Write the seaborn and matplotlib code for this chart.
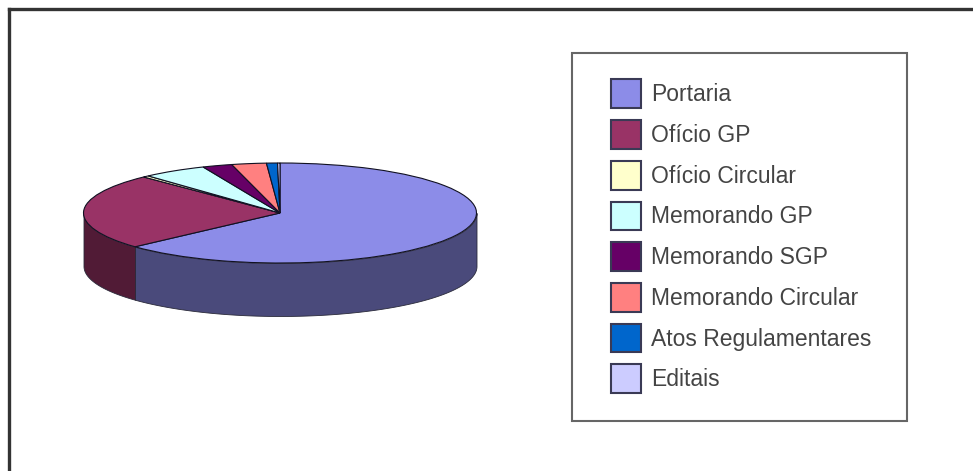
import numpy as np
import matplotlib
matplotlib.use("Agg")
import matplotlib.pyplot as plt
from matplotlib.patches import Patch, Rectangle
import seaborn as sns

categories = ["Portaria", "Ofício GP", "Ofício Circular", "Memorando GP",
              "Memorando SGP", "Memorando Circular", "Atos Regulamentares", "Editais"]
values = [63.2, 24.6, 0.5, 5.3, 2.45, 2.85, 0.9, 0.2]
colors = ["#8c8ce8", "#993366", "#FFFFCC", "#CCFFFF", "#660066", "#FF8080", "#0066CC", "#CCCCFF"]

W, H = 973, 471
CX, CY, RX, RY, DEPTH = 280, 213, 196.5, 50, 53

sns.set_theme(style="white")
plt.rcParams["font.family"] = ["Liberation Sans", "DejaVu Sans"]
palette = sns.color_palette(colors)

fig = plt.figure(figsize=(W / 100, H / 100), dpi=100, facecolor="white")

# page frame: only the top and left edges
bg = fig.add_axes([9 / W, 0, 1 - 9 / W, 1 - 8.5 / H])
bg.set_xticks([]); bg.set_yticks([])
sns.despine(ax=bg, top=False, left=False, right=True, bottom=True)
for s in ("top", "left"):
    bg.spines[s].set_color("#333333")
    bg.spines[s].set_linewidth(2.4)

ax = fig.add_axes([0, 0, 1, 1], facecolor="none")

# side wall of the disc, computed from the shares
depth = DEPTH / RY
start = 90.0
total = sum(values)
for v, c in zip(values, palette):
    end = start - 360.0 * v / total
    a1 = min(start, 0.0)
    a0 = max(end, -180.0)
    if a1 > a0:
        t = np.radians(np.linspace(a0, a1, 120))
        shade = tuple(x * 0.53 for x in c)
        ax.fill_between(np.cos(t), np.sin(t), np.sin(t) - depth, facecolor=shade,
                        edgecolor="#2a2a3a", linewidth=0.6, zorder=1)
    start = end

wedges, _ = ax.pie(values, colors=palette, startangle=90, counterclock=False,
                   radius=1, wedgeprops=dict(edgecolor="#111122", linewidth=0.8, zorder=2))
ax.set_aspect("auto")
ax.set_xlim(-CX / RX, (W - CX) / RX)
ax.set_ylim((CY - H) / RY, CY / RY)
ax.set_axis_off()

# legend box
fig.add_artist(Rectangle((571.5 / W, 1 - 421 / H), 335 / W, 368 / H, transform=fig.transFigure,
                         facecolor="white", edgecolor="#666666", linewidth=1.5, zorder=3))
FS = 16.5
px = FS * 100 / 72
handles = [Patch(facecolor=c, edgecolor="#3a3a55", linewidth=1.5) for c in palette]
leg = fig.legend(handles, categories, loc="upper left",
                 bbox_to_anchor=(611 / W, 1 - 79.5 / H), bbox_transform=fig.transFigure,
                 frameon=False, borderpad=0, borderaxespad=0, fontsize=FS,
                 handlelength=30 / px, handleheight=35.5 / px,
                 labelspacing=12 / px, handletextpad=10 / px, labelcolor="#444444")
leg.set_zorder(4)

fig.savefig("out.png", dpi=100, facecolor="white")
